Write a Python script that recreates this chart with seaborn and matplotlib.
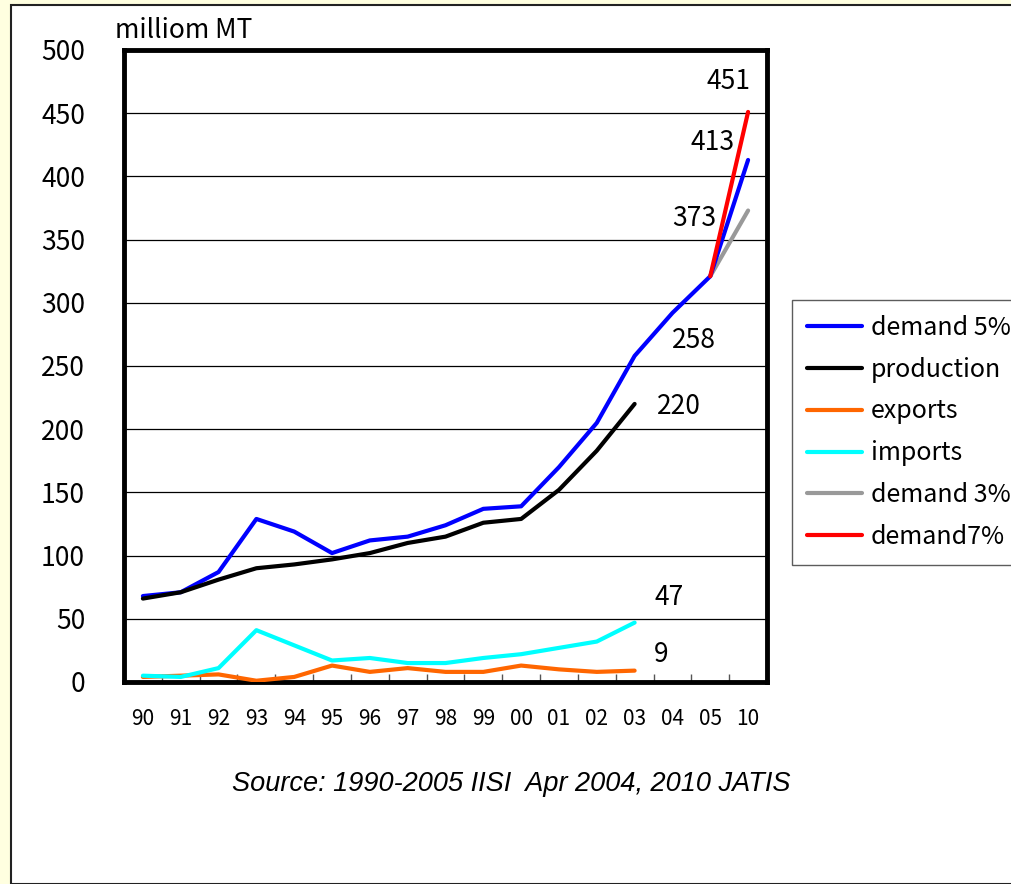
#!/usr/bin/env python3
"""Steel demand / production / trade chart (milliom MT)."""

import numpy as np
import pandas as pd
import matplotlib
matplotlib.use("Agg")
import matplotlib.pyplot as plt
from matplotlib.patches import Rectangle
import seaborn as sns

# --- data ---
years = ["90", "91", "92", "93", "94", "95", "96", "97", "98", "99",
         "00", "01", "02", "03", "04", "05", "10"]
demand5 = [68, 71, 87, 129, 119, 102, 112, 115, 124, 137,
           139, 170, 205, 258, 292, 321, 413]
production = [66, 71, 81, 90, 93, 97, 102, 110, 115, 126,
              129, 152, 183, 220, None, None, None]
exports = [4, 5, 6, 1, 4, 13, 8, 11, 8, 8,
           13, 10, 8, 9, None, None, None]
imports = [5, 4, 11, 41, 29, 17, 19, 15, 15, 19,
           22, 27, 32, 47, None, None, None]
demand3 = [None] * 15 + [321, 373]
demand7 = [None] * 15 + [321, 451]

label_texts = ["451", "413", "373", "258", "220", "47", "9"]
# where the value labels sit (x index, y value)
label_pos = [(15.47, 475), (15.07, 427), (14.57, 367), (14.57, 270),
             (14.17, 218), (13.9, 67), (13.7, 22)]


def main():
    sns.set_theme(style="white")
    plt.rcParams['font.family'] = ['Noto Sans CJK JP', 'DejaVu Sans']
    plt.rcParams['text.color'] = 'black'
    plt.rcParams['xtick.color'] = 'black'
    plt.rcParams['ytick.color'] = 'black'

    fig = plt.figure(figsize=(10.12, 8.84), dpi=100)
    fig.patch.set_facecolor("#FFFFE0")
    fig.patches.append(Rectangle((11 / 1012, 0), 1.0, 1 - 5 / 884,
                                 transform=fig.transFigure, facecolor="white",
                                 edgecolor="#222222", linewidth=1.5, zorder=-5))

    ax = fig.add_axes([124 / 1012, 202 / 884, 643 / 1012, 632 / 884])
    ax.set_facecolor("white")

    x = np.arange(len(years))
    series = [("demand 5%", demand5, "#0000FF"),
              ("production", production, "#000000"),
              ("exports", exports, "#FF6600"),
              ("imports", imports, "#00FFFF"),
              ("demand 3%", demand3, "#999999"),
              ("demand7%", demand7, "#FF0000")]
    for name, vals, color in series:
        df = pd.DataFrame({"x": x, "y": pd.array(vals, dtype="Float64")}).dropna()
        df["y"] = df["y"].astype(float)
        z = 3 if name == "demand 3%" else 4
        sns.lineplot(data=df, x="x", y="y", color=color, linewidth=3.0,
                     ax=ax, zorder=z, label=name)

    ax.set_xlim(-0.5, len(years) - 0.5)
    ax.set_ylim(0, 500)
    ax.set_yticks(np.arange(0, 501, 50))
    ax.set_xticks(x)
    ax.set_xticklabels(years, fontsize=15)
    ax.tick_params(axis="y", labelsize=19, pad=28, length=0)
    ax.tick_params(axis="x", pad=19, length=0)
    ax.set_xticks(np.arange(0.5, len(years) - 1, 1), minor=True)
    ax.tick_params(axis="x", which="minor", direction="in", length=6,
                   width=1, color="#555555", bottom=True)
    ax.set_xlabel("")
    ax.set_ylabel("")
    ax.yaxis.grid(True, color="black", linewidth=0.9)
    ax.set_axisbelow(True)
    for sp in ax.spines.values():
        sp.set_visible(True)
        sp.set_color("black")
        sp.set_linewidth(3.5)

    for (xi, yi), txt in zip(label_pos, label_texts):
        ax.text(xi, yi, txt, fontsize=19, ha="center", va="center")

    fig.text(115 / 1012, 1 - 30 / 884, "milliom MT", fontsize=19,
             ha="left", va="center")
    fig.text(511 / 1012, 1 - 784 / 884,
             "Source: 1990-2005 IISI  Apr 2004, 2010 JATIS",
             fontsize=19.5, style="italic", ha="center", va="center",
             family=['Liberation Sans', 'DejaVu Sans'])

    leg = ax.legend(loc="upper left", bbox_to_anchor=(792 / 1012, 1 - 300 / 884),
                    bbox_transform=fig.transFigure, fontsize=18, frameon=True,
                    fancybox=False, edgecolor="#333333", handlelength=2.2,
                    labelspacing=0.63, borderpad=0.6, handletextpad=0.35,
                    borderaxespad=0)
    leg.get_frame().set_linewidth(1.0)

    fig.savefig("out.png", dpi=100, facecolor=fig.get_facecolor())


if __name__ == "__main__":
    main()
